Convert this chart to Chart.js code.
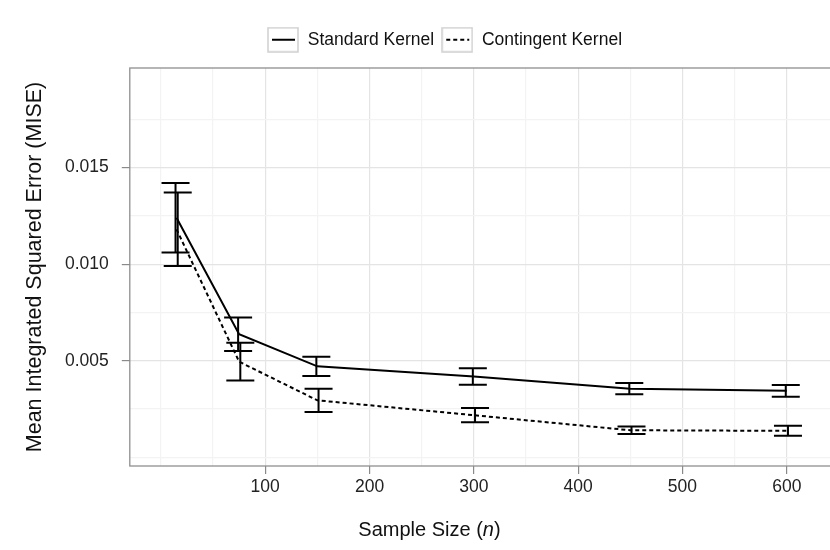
<!DOCTYPE html>
<html lang="en">
<head>
  <meta charset="UTF-8">
  <title>MISE by Sample Size</title>
  <script src="https://cdn.jsdelivr.net/npm/chart.js"></script>
  <style>
    html, body {
      margin: 0;
      padding: 0;
      overflow: hidden;
      background: #fff;
    }
    #chart-container {
      width: 889px;
      height: 550px;
    }
  </style>
</head>
<body>

  <div id="chart-container">
    <canvas id="chart" width="889" height="550"></canvas>
  </div>

  <script>
    // mean MISE and standard error per sample size
    const sampleSizes = [15, 75, 150, 300, 450, 600];
    const standardMise = [0.0124, 0.00637, 0.00471, 0.00418, 0.00355, 0.00344];
    const standardErr = [0.0018, 0.00087, 0.0005, 0.00043, 0.00029, 0.0003];
    const contingentMise = [0.0118, 0.00495, 0.00295, 0.00218, 0.0014, 0.00137];
    const contingentErr = [0.0019, 0.00098, 0.0006, 0.00037, 0.00019, 0.00026];

    const xTickValues = [100, 200, 300, 400, 500, 600];
    const xMinorValues = [0, 50, 150, 250, 350, 450, 550, 650];
    const yTickValues = [0.005, 0.010, 0.015];
    const yTickLabels = ['0.005', '0.010', '0.015'];
    const yMinorValues = [0, 0.0025, 0.0075, 0.0125, 0.0175];

    const FONT = '"Liberation Sans", Arial, Helvetica, sans-serif';
    Chart.defaults.font.family = FONT;

    // small boxed line sample used as the legend key
    function legendKey(dash) {
      const c = document.createElement('canvas');
      c.width = 32;
      c.height = 26;
      const g = c.getContext('2d');
      g.strokeStyle = '#cfcfcf';
      g.lineWidth = 1.5;
      g.strokeRect(1, 1, 30, 24);
      g.strokeStyle = '#000';
      g.lineWidth = 2;
      g.setLineDash(dash);
      g.beginPath();
      g.moveTo(5, 13);
      g.lineTo(28, 13);
      g.stroke();
      return c;
    }

    function toPoints(means) {
      return sampleSizes.map((n, i) => ({ x: n, y: means[i] }));
    }

    const errorBars = {
      id: 'errorBars',
      afterDatasetsDraw(chart, args, opts) {
        const { ctx, scales: { x, y } } = chart;
        const half = opts.capWidth / 2;
        chart.data.datasets.forEach(ds => {
          ctx.save();
          ctx.strokeStyle = ds.borderColor;
          ctx.lineWidth = opts.lineWidth;
          ds.data.forEach((p, j) => {
            const px = x.getPixelForValue(p.x) + (ds.dodge || 0);
            const hi = y.getPixelForValue(p.y + ds.errors[j]);
            const lo = y.getPixelForValue(p.y - ds.errors[j]);
            ctx.beginPath();
            ctx.moveTo(px, hi);
            ctx.lineTo(px, lo);
            ctx.moveTo(px - half, hi);
            ctx.lineTo(px + half, hi);
            ctx.moveTo(px - half, lo);
            ctx.lineTo(px + half, lo);
            ctx.stroke();
          });
          ctx.restore();
        });
      }
    };

    const panelBorder = {
      id: 'panelBorder',
      beforeDatasetsDraw(chart) {
        const { ctx, chartArea: a } = chart;
        ctx.save();
        ctx.strokeStyle = '#8f8f8f';
        ctx.lineWidth = 1.3;
        ctx.strokeRect(a.left, a.top, a.right - a.left, a.bottom - a.top);
        ctx.restore();
      }
    };

    // x axis title with an italic "n"
    const xAxisTitle = {
      id: 'xAxisTitle',
      afterDraw(chart, args, opts) {
        const { ctx } = chart;
        const size = opts.size;
        ctx.save();
        ctx.fillStyle = opts.color;
        ctx.textBaseline = 'middle';
        ctx.textAlign = 'left';
        const widths = opts.parts.map(p => {
          ctx.font = (p.italic ? 'italic ' : '') + size + 'px ' + FONT;
          return ctx.measureText(p.text).width;
        });
        const total = widths.reduce((a, b) => a + b, 0);
        let x = chart.width / 2 + opts.shift - total / 2;
        const y = chart.height - opts.bottom;
        opts.parts.forEach((p, i) => {
          ctx.font = (p.italic ? 'italic ' : '') + size + 'px ' + FONT;
          ctx.fillText(p.text, x, y);
          x += widths[i];
        });
        ctx.restore();
      }
    };

    // extra room between the legend and the plot panel
    const legendGap = {
      id: 'legendGap',
      beforeUpdate(chart) {
        const legend = chart.legend;
        if (!legend || legend._gapAdded) return;
        const fit = legend.fit;
        legend.fit = function () {
          fit.call(this);
          this.height += 9.5;
        };
        legend._gapAdded = true;
      }
    };

    const isMajorX = v => xTickValues.includes(v);
    const isMajorY = v => yTickValues.includes(v);

    new Chart(document.getElementById('chart'), {
      type: 'line',
      data: {
        datasets: [{
          label: 'Standard Kernel',
          data: toPoints(standardMise),
          errors: standardErr,
          dodge: -1,
          borderColor: '#000',
          borderWidth: 2,
          pointRadius: 0,
          pointStyle: legendKey([]),
          tension: 0,
          fill: false
        }, {
          label: 'Contingent Kernel',
          data: toPoints(contingentMise),
          errors: contingentErr,
          dodge: 1.2,
          borderColor: '#000',
          borderWidth: 2,
          borderDash: [4, 3],
          pointRadius: 0,
          pointStyle: legendKey([4, 3]),
          tension: 0,
          fill: false
        }]
      },
      options: {
        responsive: false,
        devicePixelRatio: 1,
        animation: false,
        layout: { padding: { top: 24, right: 0, bottom: 50, left: 0 } },
        plugins: {
          legend: {
            position: 'top',
            labels: {
              usePointStyle: true,
              pointStyleWidth: 32,
              padding: 7,
              color: '#111',
              font: { size: 17.5 }
            }
          },
          title: { display: false },
          tooltip: { enabled: false },
          errorBars: { capWidth: 28, lineWidth: 2 },
          xAxisTitle: {
            parts: [
              { text: 'Sample Size (', italic: false },
              { text: 'n', italic: true },
              { text: ')', italic: false }
            ],
            size: 20,
            color: '#111',
            shift: -15,
            bottom: 20
          }
        },
        scales: {
          x: {
            type: 'linear',
            min: -29.8,
            max: 698,
            afterBuildTicks(axis) {
              axis.ticks = xMinorValues.concat(xTickValues)
                .filter(v => v >= axis.min && v <= axis.max)
                .sort((a, b) => a - b)
                .map(v => ({ value: v }));
            },
            border: { display: false },
            grid: {
              color: c => isMajorX(c.tick.value) ? '#e4e4e4' : '#f3f3f3',
              lineWidth: 1.2,
              tickLength: 8,
              tickWidth: 1.2,
              tickColor: c => isMajorX(c.tick.value) ? '#8a8a8a' : 'rgba(0,0,0,0)'
            },
            ticks: {
              autoSkip: false,
              maxRotation: 0,
              padding: 2.5,
              color: '#222',
              font: { size: 17.5 },
              callback: v => isMajorX(v) ? String(v) : ''
            }
          },
          y: {
            min: -0.00045,
            max: 0.02015,
            afterBuildTicks(axis) {
              axis.ticks = yMinorValues.concat(yTickValues)
                .sort((a, b) => a - b)
                .map(v => ({ value: v }));
            },
            border: { display: false },
            grid: {
              color: c => isMajorY(c.tick.value) ? '#e4e4e4' : '#f3f3f3',
              lineWidth: 1.2,
              tickLength: 8,
              tickWidth: 1.2,
              tickColor: c => isMajorY(c.tick.value) ? '#8a8a8a' : 'rgba(0,0,0,0)'
            },
            ticks: {
              autoSkip: false,
              padding: 13,
              color: '#222',
              font: { size: 17.5 },
              callback: v => {
                const k = yTickValues.indexOf(v);
                return k === -1 ? '' : yTickLabels[k];
              }
            },
            title: {
              display: true,
              text: 'Mean Integrated Squared Error (MISE)',
              color: '#111',
              font: { size: 21.5 },
              padding: { top: 22, bottom: 4.2 }
            }
          }
        }
      },
      plugins: [errorBars, panelBorder, legendGap, xAxisTitle]
    });
  </script>

</body>
</html>
